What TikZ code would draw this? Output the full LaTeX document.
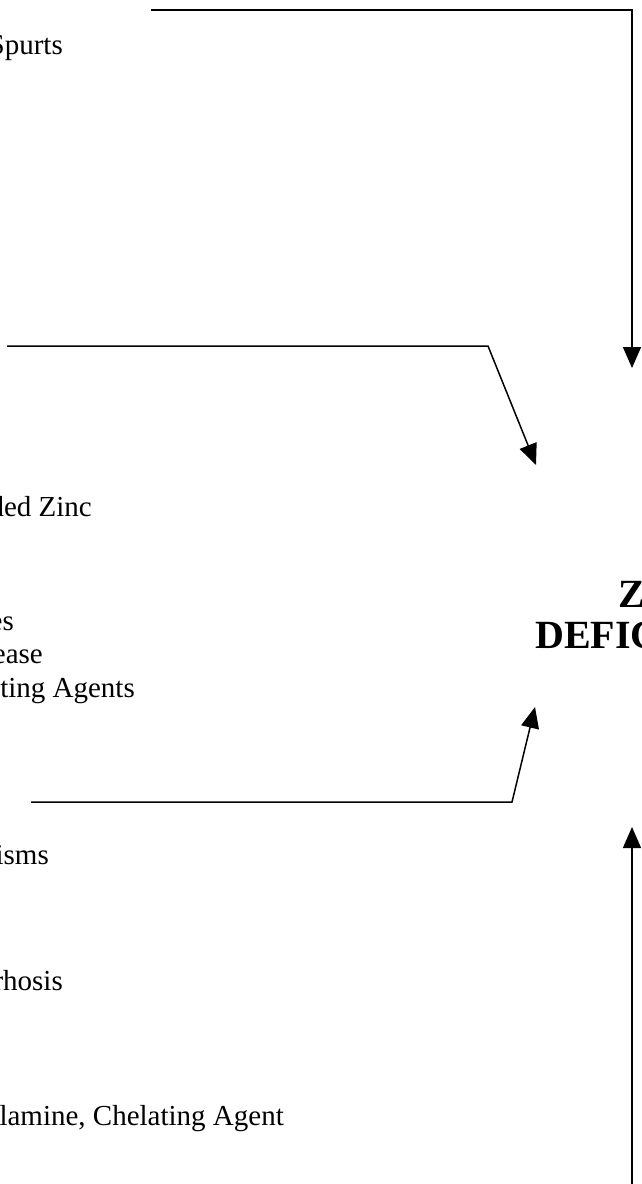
\documentclass[tikz,border=0pt]{standalone}
\usepackage{fontspec}
\setmainfont{Liberation Serif}
\usetikzlibrary{arrows.meta}
\begin{document}
\begin{tikzpicture}[x=1pt,y=-1pt,
    cause/.style={anchor=base east,inner sep=0pt,font=\fontsize{29}{33.5}\selectfont},
    effect/.style={anchor=base west,inner sep=0pt,font=\bfseries\fontsize{40}{42}\selectfont},
    link/.style={line width=1.5pt,-{Triangle[length=21pt,width=18pt]}}]
  \useasboundingbox (0,0) rectangle (641,1184);
  \clip (0,0) rectangle (641,1184);
  \node[cause] (spurts) at (63,54) {Spurts};
  \node[cause] (zinc) at (92,516) {ded Zinc};
  \node[cause] (es) at (14,630) {es};
  \node[cause] (ease) at (43,663) {ease};
  \node[cause] (agents) at (135,697) {ting Agents};
  \node[cause] (isms) at (49,864) {isms};
  \node[cause] (rhosis) at (63,990) {rhosis};
  \node[cause] (agent) at (284,1125) {lamine, Chelating Agent};
  \node[effect] (z) at (618,607) {Z};
  \node[effect] (defic) at (535,648) {DEFIC};
  \coordinate (a1) at (151,10);  \coordinate (a2) at (632,10);  \coordinate (t1) at (632,368);
  \coordinate (b1) at (7,346);   \coordinate (b2) at (488,346); \coordinate (t2) at (536,465);
  \coordinate (c1) at (31,802);  \coordinate (c2) at (512,802); \coordinate (t3) at (535,707);
  \coordinate (d1) at (632,1184); \coordinate (t4) at (632,827);
  \draw[link] (a1)--(a2)--(t1);
  \draw[link] (b1)--(b2)--(t2);
  \draw[link] (c1)--(c2)--(t3);
  \draw[link] (d1)--(t4);
\end{tikzpicture}
\end{document}
